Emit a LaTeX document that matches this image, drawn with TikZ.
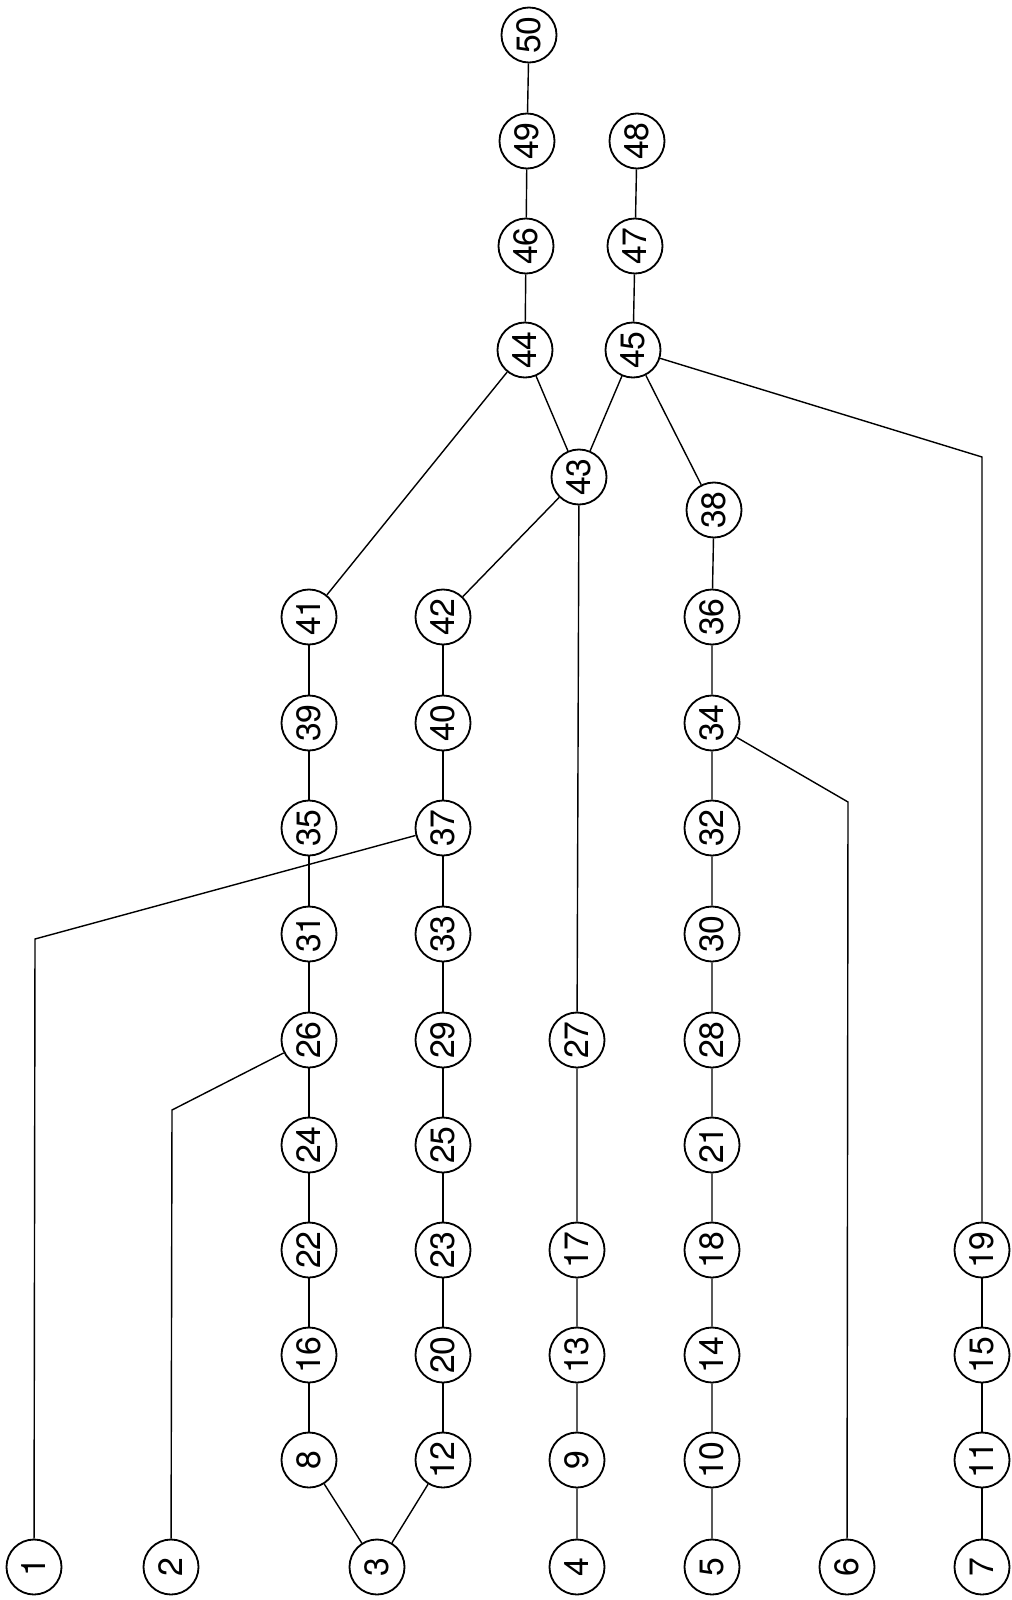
\documentclass[tikz,border=0pt]{standalone}
\usepackage{fontspec}
\setmainfont{TeX Gyre Heros}
\usepackage{tikz}
\usetikzlibrary{positioning, calc}
\tikzset{
    % Circled vertex, label turned on its side
    vertex/.style={
        circle,
        draw=black,
        fill=white,
        line width=1.3pt,
        minimum size=1.375cm,
        inner sep=0pt,
        rotate=90,
        font=\fontsize{24}{24}\selectfont
    },
    link/.style={
        draw=black,
        line width=1pt
    }
}

\begin{document}
\begin{tikzpicture}[x=0.025cm, y=-0.025cm]
        \useasboundingbox (0,0) rectangle (1012,1600);

        % Bottom row
        \node[vertex] (n1) at (34,1567) {1};
        \node[vertex] (n2) at (171,1567) {2};
        \node[vertex] (n3) at (377,1567) {3};
        \node[vertex] (n4) at (577,1567) {4};
        \node[vertex] (n5) at (712,1567) {5};
        \node[vertex] (n6) at (847,1567) {6};
        \node[vertex] (n7) at (982,1567) {7};

        % First column
        \node[vertex] (n8) at (309,1460) {8};
        \node[vertex] (n16) at (309,1355) {16};
        \node[vertex] (n22) at (309,1250) {22};
        \node[vertex] (n24) at (309,1145) {24};
        \node[vertex] (n26) at (309,1040) {26};
        \node[vertex] (n31) at (309,934) {31};
        \node[vertex] (n35) at (309,828) {35};
        \node[vertex] (n39) at (309,723) {39};
        \node[vertex] (n41) at (309,617) {41};

        % Second column
        \node[vertex] (n12) at (443,1460) {12};
        \node[vertex] (n20) at (443,1355) {20};
        \node[vertex] (n23) at (443,1250) {23};
        \node[vertex] (n25) at (443,1145) {25};
        \node[vertex] (n29) at (443,1040) {29};
        \node[vertex] (n33) at (443,934) {33};
        \node[vertex] (n37) at (443,828) {37};
        \node[vertex] (n40) at (443,723) {40};
        \node[vertex] (n42) at (443,617) {42};

        % Third column
        \node[vertex] (n9) at (577,1460) {9};
        \node[vertex] (n13) at (577,1355) {13};
        \node[vertex] (n17) at (577,1250) {17};
        \node[vertex] (n27) at (577,1040) {27};
        \node[vertex] (n43) at (579,477) {43};

        % Fourth column
        \node[vertex] (n10) at (712,1460) {10};
        \node[vertex] (n14) at (712,1355) {14};
        \node[vertex] (n18) at (712,1250) {18};
        \node[vertex] (n21) at (712,1145) {21};
        \node[vertex] (n28) at (712,1040) {28};
        \node[vertex] (n30) at (712,934) {30};
        \node[vertex] (n32) at (712,828) {32};
        \node[vertex] (n34) at (712,723) {34};
        \node[vertex] (n36) at (712,617) {36};
        \node[vertex] (n38) at (714,510) {38};

        % Right column
        \node[vertex] (n11) at (982,1460) {11};
        \node[vertex] (n15) at (982,1355) {15};
        \node[vertex] (n19) at (982,1250) {19};

        % Top
        \node[vertex] (n44) at (525,350) {44};
        \node[vertex] (n46) at (526,246) {46};
        \node[vertex] (n49) at (527,141) {49};
        \node[vertex] (n50) at (529,35) {50};
        \node[vertex] (n45) at (633,350) {45};
        \node[vertex] (n47) at (635,246) {47};
        \node[vertex] (n48) at (637,141) {48};

        % Bends of the long connectors
        \coordinate (b1) at (35,939);
        \coordinate (b2) at (172,1110);
        \coordinate (b6) at (848,802);
        \coordinate (b19) at (982,457);

        % Chains
        \draw[link] (n8) -- (n16) -- (n22) -- (n24) -- (n26) -- (n31) -- (n35) -- (n39) -- (n41);
        \draw[link] (n12) -- (n20) -- (n23) -- (n25) -- (n29) -- (n33) -- (n37) -- (n40) -- (n42);
        \draw[link] (n4) -- (n9) -- (n13) -- (n17) -- (n27) -- (n43);
        \draw[link] (n5) -- (n10) -- (n14) -- (n18) -- (n21) -- (n28) -- (n30) -- (n32) -- (n34) -- (n36) -- (n38);
        \draw[link] (n7) -- (n11) -- (n15) -- (n19);
        \draw[link] (n44) -- (n46) -- (n49) -- (n50);
        \draw[link] (n45) -- (n47) -- (n48);

        % Cross links
        \draw[link] (n3) -- (n8);
        \draw[link] (n3) -- (n12);
        \draw[link] (n1) -- (b1) -- (n37);
        \draw[link] (n2) -- (b2) -- (n26);
        \draw[link] (n6) -- (b6) -- (n34);
        \draw[link] (n19) -- (b19) -- (n45);
        \draw[link] (n41) -- (n44);
        \draw[link] (n42) -- (n43);
        \draw[link] (n43) -- (n44);
        \draw[link] (n43) -- (n45);
        \draw[link] (n38) -- (n45);
\end{tikzpicture}
\end{document}
